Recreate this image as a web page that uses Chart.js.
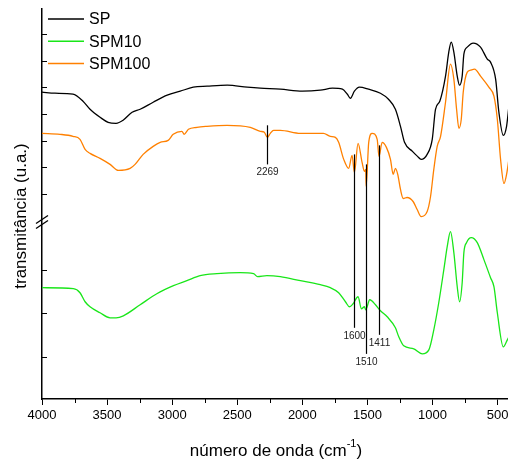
<!DOCTYPE html>
<html>
<head>
<meta charset="utf-8">
<script src="https://cdn.jsdelivr.net/npm/chart.js@4.4.1/dist/chart.umd.min.js"></script>
<style>
  html, body { margin: 0; padding: 0; background: #fff; }
  #chart { display: block; }
</style>
</head>
<body>
<canvas id="chart" width="508" height="463"></canvas>
<script>
// wavenumber (cm-1) and transmittance (arbitrary units)
const spWn = [4000, 3900, 3762, 3685, 3631, 3554, 3492, 3431, 3377, 3308, 3246, 3146, 3038, 2938, 2838, 2731, 2577, 2423, 2323, 2169, 2000, 1862, 1769, 1692, 1654, 1631, 1600, 1562, 1492, 1400, 1338, 1285, 1246, 1215, 1154, 1115, 1087, 1041, 1002, 977, 944, 900, 875, 856, 836, 810, 792, 772, 759, 733, 687, 631, 579, 554, 515, 490, 456, 431, 413];
const spT = [306, 305, 304, 297, 289, 281, 276, 275, 278, 286, 289, 296, 303, 307, 311, 312, 313, 311, 310, 309, 307, 308, 310, 309, 304, 300, 307, 311, 309, 305, 299, 289, 272, 256, 247, 242, 239, 244, 259, 289, 297, 322, 346, 356, 346, 322, 313, 322, 344, 351, 355, 351, 339, 336, 319, 286, 263, 272, 292];

const spm10Wn = [4000, 3759, 3708, 3669, 3631, 3554, 3477, 3431, 3375, 3246, 3118, 2990, 2887, 2785, 2656, 2477, 2375, 2344, 2272, 2169, 2015, 1862, 1785, 1721, 1669, 1638, 1610, 1572, 1546, 1523, 1513, 1482, 1438, 1400, 1348, 1285, 1259, 1221, 1144, 1079, 1028, 990, 952, 913, 887, 862, 836, 810, 792, 772, 759, 738, 702, 656, 605, 554, 528, 502, 456, 425, 413];
const spm10T = [111, 110, 106, 97, 92, 86, 81, 81, 83, 94, 105, 113, 118, 123, 125, 126, 125, 122, 123, 122, 118, 114, 111, 106, 97, 92, 95, 102, 90, 92, 89, 99, 94, 88, 82, 71, 62, 53, 50, 45, 49, 69, 96, 129, 152, 167, 146, 112, 97, 116, 146, 156, 161, 156, 139, 121, 112, 86, 52, 59, 62];

const spm100Wn = [4000, 3862, 3762, 3708, 3669, 3631, 3554, 3477, 3413, 3323, 3285, 3223, 3146, 3092, 3031, 2992, 2925, 2908, 2875, 2810, 2733, 2579, 2400, 2323, 2292, 2269, 2246, 2221, 2169, 2015, 1838, 1785, 1746, 1721, 1682, 1644, 1618, 1600, 1572, 1541, 1523, 1513, 1510, 1490, 1464, 1425, 1411, 1387, 1354, 1323, 1302, 1285, 1267, 1246, 1225, 1195, 1149, 1118, 1087, 1041, 1015, 990, 964, 938, 900, 862, 836, 815, 797, 779, 764, 733, 708, 677, 631, 567, 528, 502, 477, 451, 431, 413];
const spm100T = [265, 264, 262, 259, 249, 245, 240, 234, 228, 230, 234, 244, 252, 256, 258, 264, 267, 264, 269, 271, 272, 273, 271, 267, 266, 261, 265, 268, 268, 265, 265, 262, 261, 256, 239, 230, 243, 226, 255, 236, 227, 229, 212, 256, 265, 259, 242, 256, 251, 239, 224, 230, 224, 209, 200, 201, 197, 189, 182, 187, 202, 229, 252, 262, 296, 334, 319, 289, 270, 279, 306, 326, 328, 329, 322, 311, 302, 279, 239, 215, 224, 239];

const seriesNames = ["SP", "SPM10", "SPM100"];
const majorWn = [4000, 3500, 3000, 2500, 2000, 1500, 1000, 500];
const minorWn = [3750, 3250, 2750, 2250, 1750, 1250, 750];
const yTicksUpper = [364, 337, 311, 284, 257, 231, 204];
const yTicksLower = [129, 86, 42];
const breakAt = 176;

// marked bands: position, label, line start and end (same units as the curves)
const markWn = [2269, 1600, 1510, 1411];
const markLabels = ["2269", "1600", "1510", "1411"];
const markFrom = [273, 244, 234, 253];
const markTo = [234, 71, 45, 64];

const FONT = '"Liberation Sans", Arial, sans-serif';

function pairs(xs, ys) {
    return xs.map((v, i) => ({ x: v, y: ys[i] }));
}

const extras = {
    id: 'extras',
    afterDraw(chart) {
        const ctx = chart.ctx;
        const xs = chart.scales.x;
        const ys = chart.scales.y;
        const area = chart.chartArea;

        function seg(x1, y1, x2, y2) {
            ctx.beginPath();
            ctx.moveTo(x1, y1);
            ctx.lineTo(x2, y2);
            ctx.stroke();
        }

        ctx.save();
        ctx.strokeStyle = '#000';
        ctx.lineWidth = 1;

        // minor ticks on the x axis
        minorWn.forEach(v => {
            const px = Math.round(xs.getPixelForValue(v)) + 0.5;
            seg(px, area.bottom, px, area.bottom + 4);
        });

        // inward ticks on the y axis
        yTicksUpper.concat(yTicksLower).forEach(v => {
            const py = Math.round(ys.getPixelForValue(v)) + 0.5;
            seg(area.left, py, area.left + 5, py);
        });

        // axis break
        const by = ys.getPixelForValue(breakAt);
        ctx.lineWidth = 1.3;
        seg(area.left - 6, by + 1, area.left + 6, by - 7);
        seg(area.left - 6, by + 6, area.left + 6, by - 2);

        // marked bands
        ctx.lineWidth = 1.2;
        ctx.fillStyle = '#222';
        ctx.font = '10px ' + FONT;
        ctx.textAlign = 'center';
        ctx.textBaseline = 'top';
        markWn.forEach((v, i) => {
            const px = Math.round(xs.getPixelForValue(v)) + 0.5;
            const top = ys.getPixelForValue(markFrom[i]);
            const bottom = ys.getPixelForValue(markTo[i]);
            seg(px, top, px, bottom);
            ctx.fillText(markLabels[i], px, bottom + 3);
        });

        // legend
        ctx.font = '16px ' + FONT;
        ctx.textAlign = 'left';
        ctx.textBaseline = 'middle';
        chart.data.datasets.forEach((ds, i) => {
            const ly = 19 + i * 22.2;
            ctx.strokeStyle = ds.borderColor;
            ctx.lineWidth = 1.5;
            seg(48, ly, 84, ly);
            ctx.fillStyle = '#000';
            ctx.fillText(ds.label, 89, ly + 1);
        });

        // axis titles
        ctx.fillStyle = '#000';
        ctx.font = '17px ' + FONT;
        const t1 = 'número de onda (cm';
        const t2 = '-1';
        const t3 = ')';
        const w1 = ctx.measureText(t1).width;
        const w3 = ctx.measureText(t3).width;
        ctx.font = '11px ' + FONT;
        const w2 = ctx.measureText(t2).width;
        let tx = 276 - (w1 + w2 + w3) / 2;
        const ty = 451;
        ctx.font = '17px ' + FONT;
        ctx.fillText(t1, tx, ty);
        tx += w1;
        ctx.font = '11px ' + FONT;
        ctx.fillText(t2, tx, ty - 7);
        tx += w2;
        ctx.font = '17px ' + FONT;
        ctx.fillText(t3, tx, ty);

        ctx.translate(21, 216);
        ctx.rotate(-Math.PI / 2);
        ctx.textAlign = 'center';
        ctx.fillText('transmitância (u.a.)', 0, 0);

        ctx.restore();
    }
};

new Chart(document.getElementById('chart'), {
    type: 'line',
    data: {
        datasets: [
            { label: seriesNames[0], data: pairs(spWn, spT), borderColor: '#000000' },
            { label: seriesNames[1], data: pairs(spm10Wn, spm10T), borderColor: '#19e619' },
            { label: seriesNames[2], data: pairs(spm100Wn, spm100T), borderColor: '#ff8000' }
        ]
    },
    options: {
        responsive: false,
        animation: false,
        devicePixelRatio: 1,
        layout: { padding: { top: 9, left: 0, right: 0, bottom: 0 } },
        elements: {
            line: { borderWidth: 1.3, cubicInterpolationMode: 'monotone', fill: false },
            point: { radius: 0, hoverRadius: 0 }
        },
        plugins: {
            legend: { display: false },
            tooltip: { enabled: false }
        },
        scales: {
            x: {
                type: 'linear',
                reverse: true,
                min: 420,
                max: 4000,
                afterBuildTicks(s) {
                    s.ticks = majorWn.map(v => ({ value: v }));
                },
                afterFit(s) {
                    s.height = 64;
                    s.paddingLeft = 0;
                    s.paddingRight = 0;
                },
                ticks: {
                    includeBounds: false,
                    maxRotation: 0,
                    autoSkip: false,
                    color: '#000',
                    padding: 3,
                    font: { family: FONT, size: 13 },
                    callback: v => String(v)
                },
                grid: {
                    display: true,
                    drawOnChartArea: false,
                    drawTicks: true,
                    tickLength: 6,
                    color: '#000',
                    lineWidth: 1
                },
                border: { display: true, color: '#000', width: 1.5 }
            },
            y: {
                type: 'linear',
                min: 0,
                max: 389,
                afterFit(s) {
                    s.width = 42;
                },
                ticks: { display: false },
                grid: { display: false },
                border: { display: true, color: '#000', width: 1.5 }
            }
        }
    },
    plugins: [extras]
});
</script>
</body>
</html>
